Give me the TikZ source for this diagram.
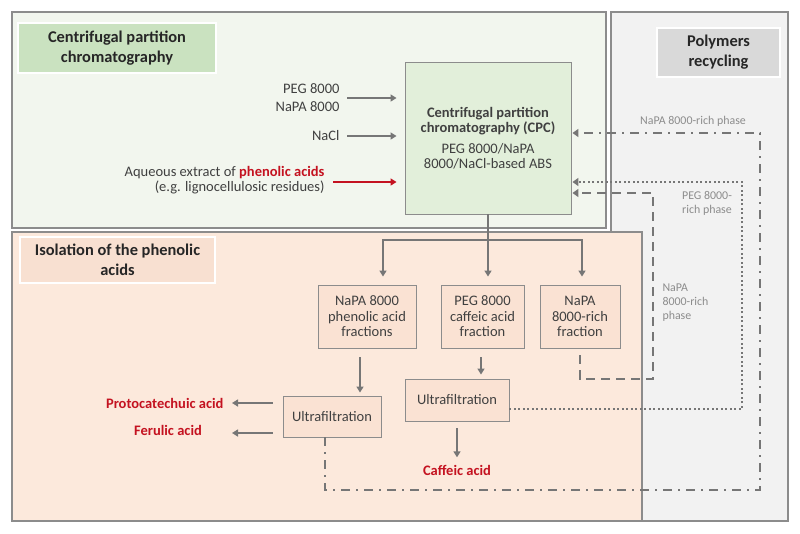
\documentclass[tikz,border=0pt]{standalone}
\usepackage{fontspec}
\setmainfont{Carlito}
\usetikzlibrary{arrows.meta,calc}
\definecolor{linegray}{RGB}{118,118,118}
\definecolor{framegray}{RGB}{140,140,140}
\definecolor{textgray}{RGB}{64,64,64}
\definecolor{titlegray}{RGB}{38,38,38}
\definecolor{phasegray}{RGB}{140,140,140}
\definecolor{acidred}{RGB}{196,18,32}
\definecolor{cpcpanel}{RGB}{242,246,238}
\definecolor{cpcgreen}{RGB}{226,239,218}
\definecolor{titlegreen}{RGB}{202,226,192}
\definecolor{recpanel}{RGB}{242,242,242}
\definecolor{rectitle}{RGB}{217,217,217}
\definecolor{isopanel}{RGB}{252,233,220}
\definecolor{isotitle}{RGB}{248,224,209}
\definecolor{isobox}{RGB}{250,226,211}
\newcommand{\acid}[1]{\textcolor{acidred}{\bfseries #1}}

\begin{document}
\begin{tikzpicture}[x=1pt,y=-1pt,
    every node/.style={font=\fontsize{14.5}{15.5}\selectfont, text=textgray},
    panel/.style={draw=framegray, line width=1.3pt},
    title/.style={font=\fontsize{16.4}{20}\selectfont\bfseries, text=titlegray, align=center, draw=white, line width=1.5pt},
    stepbox/.style={draw=framegray, line width=0.9pt, fill=isobox, align=center, inner sep=2pt},
    phase/.style={font=\fontsize{11.9}{14}\selectfont, text=phasegray},
    arr/.style={draw=linegray, line width=2pt, -{Triangle[length=6pt,width=7pt]}},
    back/.style={draw=linegray, line width=2.6pt, -{Triangle[length=6pt,width=8pt]}, shorten >=1pt}
  ]
  \useasboundingbox (0,0) rectangle (800,533);

  % panels
  \draw[panel, fill=recpanel] (611,12) rectangle (788,521);
  \draw[panel, fill=cpcpanel] (12,12) rectangle (606,228);
  \draw[panel, fill=isopanel] (12,232) rectangle (642,521);

  \node[title, fill=titlegreen, minimum width=198, minimum height=50] (tcpc) at (117,48) {Centrifugal partition\\chromatography};
  \node[title, fill=rectitle, minimum width=123, minimum height=49] (tpoly) at (718.5,52.5) {Polymers\\recycling};
  \node[title, fill=isotitle, minimum width=195, minimum height=46] (tiso) at (117.5,260) {Isolation of the phenolic\\acids};

  % CPC step
  \node[draw=framegray, line width=0.9pt, fill=cpcgreen, minimum width=166, minimum height=152, align=center] (cpc) at (488,138)
    {\textbf{Centrifugal partition}\\\textbf{chromatography (CPC)}\\[5pt]PEG 8000/NaPA\\8000/NaCl-based ABS};

  \node[anchor=east, align=right] (peg) at (343,98) {PEG 8000\\[2.5pt]NaPA 8000};
  \node[anchor=east] (nacl) at (343,136) {NaCl};
  \node[anchor=east, align=right] (extract) at (328,180) {Aqueous extract of \acid{phenolic acids}\\(e.g. lignocellulosic residues)};

  \draw[arr, shorten <=4pt, shorten >=8pt] (peg.east) -- (peg.east -| cpc.west);
  \draw[arr, shorten <=4pt, shorten >=8pt] (nacl.east) -- (nacl.east -| cpc.west);
  \draw[arr, draw=acidred, shorten <=5pt, shorten >=8pt] ([yshift=-2]extract.east) -- ([yshift=-2]extract.east -| cpc.west);

  % fractions
  \node[stepbox, minimum width=98, minimum height=63] (frac1) at (367,316.5) {NaPA 8000\\phenolic acid\\fractions};
  \node[stepbox, minimum width=83, minimum height=63] (frac2) at (482.5,316.5) {PEG 8000\\caffeic acid\\fraction};
  \node[stepbox, minimum width=80, minimum height=63] (frac3) at (580,316.5) {NaPA\\8000-rich\\fraction};

  \coordinate (split) at ($(cpc.south)+(0,26)$);
  \draw[draw=linegray, line width=2pt] (cpc.south) -- (split);
  \draw[arr, shorten >=8pt] (split) -| ([xshift=16]frac1.north);
  \draw[arr, shorten >=8pt] (split) -- (split |- frac2.north);
  \draw[arr, shorten >=8pt] (split) -| ([xshift=2]frac3.north);

  % ultrafiltration
  \node[stepbox, minimum width=98, minimum height=41] (uf1) at (332,416.5) {Ultrafiltration};
  \node[stepbox, minimum width=104, minimum height=42] (uf2) at (457,400) {Ultrafiltration};

  \draw[arr, shorten <=9pt, shorten >=3pt] ([xshift=-7]frac1.south) -- ([xshift=-7]frac1.south |- uf1.north);
  \draw[arr, shorten <=9pt, shorten >=4pt] ([xshift=-1.5]frac2.south) -- ([xshift=-1.5]frac2.south |- uf2.north);

  \node[anchor=east] (proto) at (227,403) {\acid{Protocatechuic acid}};
  \node (ferulic) at (168,430) {\acid{Ferulic acid}};
  \node (caffeic) at (457,470) {\acid{Caffeic acid}};

  \draw[arr, shorten <=10pt, shorten >=5pt] ([yshift=13.5]uf1.west) -- ([yshift=13.5]uf1.west -| proto.east);
  \draw[arr, shorten <=10pt, shorten >=5pt] ([yshift=-16.5]uf1.west) -- ([yshift=-16.5]uf1.west -| proto.east);
  \draw[arr, shorten <=7pt, shorten >=4pt] (uf2.south) -- (uf2.south |- caffeic.north);

  % recycling of the phases
  \coordinate (loopA) at (760,133);
  \coordinate (loopB) at (742,182);
  \coordinate (loopC) at (653,193);
  \draw[back, dash pattern=on 9pt off 6pt on 2pt off 6pt] ([xshift=-7]uf1.south) |- (loopA |- 0,490) -- (loopA) -- (loopA -| cpc.east);
  \draw[back, line width=2.2pt, dash pattern=on 2pt off 2.5pt] ([yshift=-9]uf2.east) -| (loopB) -- (loopB -| cpc.east);
  \draw[back, dash pattern=on 9pt off 6pt] ([yshift=-7]frac3.south) |- (loopC |- 0,379) -- (loopC) -- (loopC -| cpc.east);

  \node[phase] (labA) at (693,121) {NaPA 8000-rich phase};
  \node[phase, align=center] (labB) at (707,203) {PEG 8000-\\rich phase};
  \node[phase, anchor=west, align=left] (labC) at (659,303) {NaPA\\8000-rich\\phase};
\end{tikzpicture}
\end{document}
